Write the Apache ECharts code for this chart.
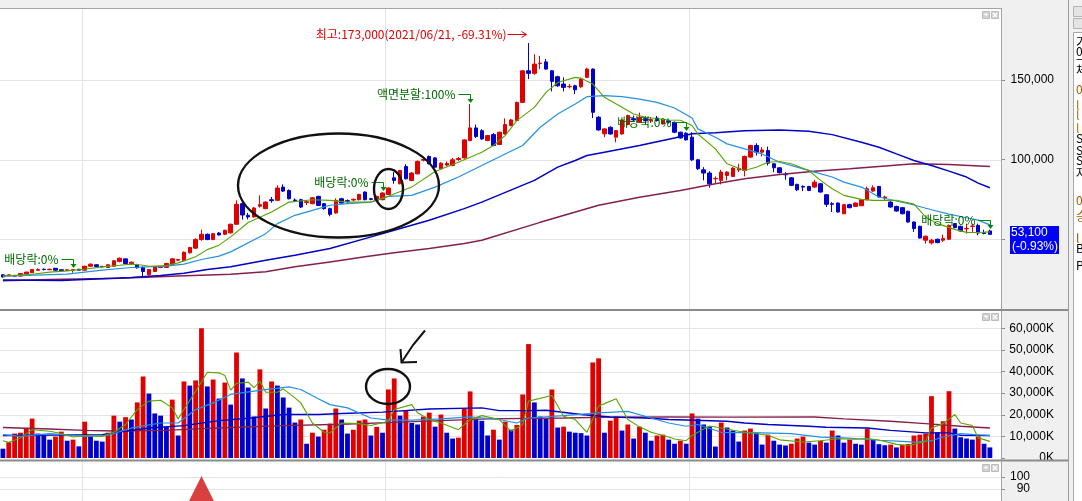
<!DOCTYPE html>
<html><head><meta charset="utf-8">
<script src="https://cdn.jsdelivr.net/npm/echarts@6/dist/echarts.min.js"></script>
<style>html,body{margin:0;padding:0;background:#fff;overflow:hidden}#c{width:1082px;height:501px}</style>
</head><body><div id="c"></div>
<script>
// ---- weekly data (price in thousand won, volume in million shares) ----
const firstWeek = '2019-09-30';
const open = [27.7,27.1,27.3,26.9,28.2,29.0,30.5,31.2,30.9,31.8, 30.9,30.6,30.4,31.2,30.6,33.1,34.0,33.0,32.3,33.1, 36.0,37.7,34.4,34.0,32.3,27.7,29.8,32.3,32.3,34.4, 36.9,36.5,41.5,44.4,49.8,53.1,49.8,53.9,53.1,54.0, 59.4,72.3,65.0,64.0,70.7,69.2,74.8,74.4,82.7,80.6, 74.6,74.8,73.1,72.3,76.9,72.3,69.2,66.5,75.4,74.2, 74.6,74.8,79.6,75.4,74.4,74.8,78.1,88.5,84.8,95.6, 86.9,91.0,99.6,101.9,101.0,94.2,96.5,96.2,100.0,101.0, 111.9,119.8,118.1,111.9,115.6,109.4,116.0,121.3,124.4,135.8, 155.6,154.0,160.2,161.2,155.6,151.9,147.3,145.6,146.2,145.6, 151.5,156.7,126.5,116.1,120.2,114.0,116.0,121.9,125.6,123.3, 125.6,124.4,126.0,122.3,124.2,123.3,117.1,116.5,114.0,99.8, 93.5,91.5,87.9,86.9,90.0,89.4,93.5,93.1,101.5,108.8, 104.6,105.6,97.3,94.8,90.6,88.5,84.4,83.1,83.1,82.7, 84.8,77.9,72.3,72.7,66.0,71.7,70.6,71.0,74.8,80.2, 83.1,76.0,73.3,70.6,69.8,67.5,60.8,58.1,49.4,47.7, 50.0,49.4,50.0,59.8,58.1,56.5,58.1,58.7,54.0,55.2];
const close = [26.4,27.7,26.9,28.5,29.4,31.0,31.0,31.0,31.2,30.6, 30.2,30.8,31.0,30.6,33.1,34.4,32.9,32.7,34.0,36.5, 38.1,34.8,35.6,32.1,29.8,31.0,32.7,32.9,34.8,37.7, 37.3,41.9,44.8,49.8,53.1,49.8,53.5,52.7,55.6,59.4, 71.9,65.2,64.0,69.6,71.7,73.3,74.2,82.1,80.2,75.4, 74.2,70.2,73.5,76.0,71.2,69.2,65.6,74.4,72.7,73.8, 75.0,78.1,74.8,75.0,76.9,79.0,82.1,86.9,93.1,87.9, 91.5,98.8,100.0,97.3,95.2,97.7,97.5,99.8,100.6,112.3, 119.8,114.4,112.9,115.0,108.8,117.1,121.9,124.8,135.8,155.6, 154.0,159.8,160.4,156.7,149.0,146.2,145.2,145.9,143.7,150.4, 156.7,129.6,118.5,119.2,116.0,118.1,124.8,127.5,124.8,126.5, 124.4,125.0,124.4,124.6,123.5,117.1,113.5,112.3,99.8,94.2, 91.5,84.8,88.1,92.1,92.1,94.6,94.4,101.9,108.8,104.6, 106.0,97.7,94.8,91.7,90.4,83.8,81.0,82.7,80.6,85.8, 79.6,71.9,71.9,67.1,71.7,69.8,72.7,74.8,81.7,82.3, 76.5,76.5,70.2,67.7,66.0,60.8,56.7,50.8,51.9,49.4, 47.9,50.4,58.7,57.3,55.2,56.7,58.3,53.9,53.6,53.1];
const low = [26.0,26.8,26.5,26.6,28.0,28.8,30.2,30.5,30.6,30.4, 30.0,30.3,29.0,30.4,30.4,32.8,32.6,32.3,32.0,32.9, 35.6,34.4,34.0,31.6,26.0,27.2,29.4,31.9,32.0,34.0, 36.5,36.3,41.0,44.0,49.0,49.4,49.4,52.3,52.7,53.5, 59.0,62.3,62.5,63.5,69.8,68.8,72.9,74.0,79.6,75.0, 73.3,69.6,71.5,71.9,70.8,68.5,64.4,66.0,72.3,72.9, 73.8,74.4,74.4,74.4,74.0,74.4,77.7,84.8,84.4,87.5, 86.5,90.6,98.8,96.9,94.8,93.8,95.8,95.8,99.2,100.6, 111.5,113.5,112.3,111.5,108.3,109.0,115.6,120.8,124.0,135.4, 150.4,153.1,156.7,156.3,142.7,145.6,142.7,144.6,141.0,145.0, 151.0,126.0,118.1,114.0,115.6,110.8,115.6,121.5,123.5,122.9, 122.3,122.9,123.8,121.9,122.5,116.5,113.1,111.9,99.0,93.5, 86.9,82.3,84.8,84.4,86.9,89.0,92.1,89.4,101.0,102.5, 101.9,96.2,92.1,91.3,87.3,83.3,80.2,80.2,80.2,82.3, 79.2,70.2,67.1,66.7,65.6,69.4,70.2,71.0,74.4,79.8, 76.0,74.4,69.8,67.3,65.6,60.4,54.6,50.4,47.3,46.7, 47.5,48.3,49.6,56.9,54.8,53.5,54.6,52.5,53.1,52.9];
const high = [28.0,27.9,27.6,28.7,29.6,31.3,31.8,31.7,31.6,32.0, 31.2,31.1,31.3,31.4,33.4,34.8,34.4,33.3,34.3,36.9, 38.5,37.9,36.1,34.6,33.0,31.3,33.0,33.3,35.2,38.3, 37.7,42.3,45.2,50.6,56.0,53.6,53.9,54.5,56.0,59.8, 74.4,74.0,66.5,70.2,77.5,73.8,76.5,83.8,84.4,81.2, 75.6,75.4,74.4,76.5,77.3,72.7,69.8,75.6,76.0,75.0, 75.6,78.5,80.0,76.0,77.3,79.4,82.5,92.1,93.5,97.0, 92.1,99.4,100.8,102.5,101.5,98.3,98.8,101.0,101.5,112.7, 134.8,121.9,119.0,115.4,116.5,117.5,125.8,125.4,136.3,156.0, 173.0,166.0,165.0,163.0,156.0,152.5,151.5,147.3,146.9,151.0, 157.5,157.1,127.3,119.6,120.8,118.5,125.2,128.1,127.5,129.4, 127.1,126.5,127.3,125.0,125.0,123.8,117.5,117.1,117.1,100.4, 95.2,92.7,89.4,93.5,92.7,95.2,97.3,102.5,109.2,110.2, 107.7,108.1,97.7,95.2,92.1,89.0,84.8,83.8,83.5,87.3, 85.2,78.3,73.3,73.1,72.1,72.3,73.1,75.2,83.1,83.8, 83.5,77.3,73.8,71.0,70.2,67.9,61.2,58.5,52.3,50.2, 50.4,52.9,59.2,60.2,58.5,59.8,59.8,59.8,56.0,56.0];
const volume = [4.3,7.3,11.3,11.7,13.9,18.2,11.3,10.7,8.5,9.9, 12.2,8.0,8.5,5.4,16.8,10.0,8.0,7.6,11.7,19.6, 16.8,18.9,17.8,25.7,37.7,29.8,20.6,19.6,14.5,27.0, 10.4,35.4,33.5,35.9,60.0,33.1,36.3,27.5,34.9,24.7, 48.8,36.8,32.6,19.2,41.0,22.9,35.4,33.5,28.0,23.3, 16.4,17.8,6.6,11.7,9.9,13.1,15.9,22.9,17.8,11.3, 13.1,17.3,17.8,10.4,14.4,11.7,31.7,36.8,19.6,21.8, 16.2,15.5,19.2,21.0,14.5,20.1,11.7,9.0,9.4,22.7, 30.8,18.2,17.2,10.4,13.1,8.5,16.8,13.1,15.3,29.4, 52.7,25.7,19.2,18.2,31.7,14.1,14.5,12.2,11.7,11.5, 10.4,44.2,46.1,11.7,17.3,19.2,12.7,15.5,9.0,14.5, 11.7,8.0,10.4,10.8,8.5,6.6,8.0,6.6,20.6,18.2, 15.5,14.5,5.3,16.4,14.1,12.7,7.6,12.7,13.6,11.7, 6.2,10.8,8.0,6.2,5.8,6.6,9.0,9.9,7.1,6.2, 8.0,7.1,12.7,10.4,7.1,8.5,6.6,6.2,13.6,8.5, 6.4,5.9,6.2,4.9,6.2,6.5,10.4,10.8,11.3,28.6, 11.9,17.0,30.9,13.6,9.6,9.0,8.5,10.0,6.6,4.9];

// moving-average lines: [week index, value]
const priceMA10 = [[0,26.9],[5,28.1],[8,29.4],[11,30.2],[14,31.2],[17,32.7],[20,33.7],[22,34.4],[24,33.7],[25,33.1],[28,33.5],[30,35.2],[33,39.0],[35,43.5],[37,46.3],[39,51.5],[42,60.5],[46,67.1],[49,73.3],[53,74.8],[56,74.4],[59,73.3],[63,73.3],[66,76.9],[70,82.7],[74,92.5],[78,98.3],[82,104.6],[84,108.8],[86,115.0],[88,124.4],[91,132.7],[93,142.1],[95,148.3],[98,151.5],[99,151.0],[101,147.3],[103,139.0],[106,132.7],[108,128.5],[110,126.5],[114,124.8],[116,124.6],[118,121.3],[119,116.0],[122,106.7],[124,97.3],[127,93.1],[129,95.2],[131,98.3],[133,98.7],[135,97.3],[138,93.1],[140,86.9],[142,81.7],[144,77.5],[147,75.0],[149,74.4],[151,74.4],[153,74.4],[156,72.0],[158,64.0],[160,59.8],[163,56.2],[165,54.3],[167,54.2],[169,54.6]];
const priceMA20 = [[0,26.9],[11,28.1],[17,30.6],[22,32.3],[28,33.1],[31,34.4],[34,37.3],[37,39.4],[39,42.1],[45,53.5],[47,59.8],[50,65.0],[53,68.1],[56,71.3],[59,72.3],[63,73.3],[66,76.9],[70,77.5],[74,82.7],[78,89.0],[82,96.2],[86,103.5],[89,108.8],[92,120.2],[95,128.5],[98,134.8],[100,139.4],[103,140.0],[106,139.4],[109,137.9],[112,135.8],[115,132.3],[118,126.0],[119,119.2],[122,114.0],[124,109.8],[127,106.7],[130,103.5],[133,98.3],[136,95.2],[139,92.1],[142,89.0],[144,85.8],[147,82.7],[150,76.5],[153,74.0],[156,71.5],[159,68.5],[162,65.8],[165,63.5],[167,62.0],[169,59.0]];
const priceMA60 = [[0,24.5],[10,24.2],[17,25.2],[22,26.0],[27,27.3],[31,28.7],[35,31.0],[39,32.7],[45,36.9],[50,40.0],[56,44.2],[62,50.4],[67,55.6],[73,61.9],[79,69.2],[82,73.3],[91,86.9],[95,95.2],[98,99.4],[100,102.5],[103,104.6],[109,108.8],[115,113.5],[118,116.2],[122,116.7],[127,118.1],[133,118.5],[138,117.7],[142,115.6],[147,110.8],[150,107.7],[153,103.5],[156,99.4],[159,96.2],[162,92.7],[165,89.0],[167,85.2],[169,82.3]];
const priceMA120 = [[0,24.0],[8,24.8],[20,25.6],[30,26.9],[39,28.1],[45,29.6],[50,32.7],[56,35.8],[62,39.0],[67,41.5],[73,44.2],[79,47.3],[82,49.4],[92,60.6],[102,71.3],[109,76.3],[116,80.6],[122,84.8],[127,87.9],[133,90.6],[139,92.7],[145,94.2],[150,95.6],[156,97.3],[162,96.9],[169,95.6]];
const volMA5 = [[0,8.0],[1,7.3],[3,9.3],[5,13.1],[8,12.4],[10,11.3],[12,9.7],[14,10.4],[17,10.0],[19,11.9],[21,15.5],[23,22.4],[25,26.3],[27,26.7],[29,23.2],[30,18.1],[31,22.4],[33,30.9],[35,39.7],[37,39.4],[38,38.2],[39,31.4],[40,34.5],[42,35.1],[43,32.5],[44,35.5],[45,30.4],[47,30.4],[48,32.0],[50,27.8],[51,25.5],[53,16.2],[55,11.9],[56,11.6],[58,16.2],[61,15.9],[63,15.0],[66,17.0],[67,22.4],[70,24.7],[71,20.9],[73,17.8],[75,16.2],[78,13.1],[80,17.8],[82,19.6],[85,17.8],[87,12.4],[89,15.5],[90,26.3],[94,28.9],[96,19.3],[98,17.8],[100,11.9],[102,24.0],[105,27.4],[107,17.8],[109,14.4],[111,11.9],[114,9.7],[115,8.8],[117,8.0],[118,10.4],[120,13.4],[121,14.8],[123,13.9],[126,12.4],[128,11.6],[131,10.5],[133,8.4],[137,7.4],[140,8.0],[143,8.9],[146,8.7],[148,9.0],[150,8.3],[153,6.3],[155,5.8],[158,7.7],[159,13.9],[161,15.9],[163,20.1],[164,16.2],[166,15.0],[167,9.3],[169,7.7]];
const volMA20 = [[0,10.8],[3,10.0],[8,11.3],[14,10.0],[18,10.4],[22,13.9],[27,16.2],[30,16.2],[33,22.4],[36,25.5],[39,29.4],[43,30.9],[46,32.0],[49,32.9],[51,31.7],[54,27.4],[56,24.7],[59,23.2],[63,18.5],[66,17.5],[70,17.5],[75,18.1],[80,19.0],[85,17.8],[88,16.2],[90,18.5],[96,19.6],[102,20.9],[107,21.6],[111,18.5],[114,16.2],[117,14.7],[119,15.5],[123,11.9],[130,11.6],[135,11.3],[140,9.7],[144,9.3],[150,8.2],[154,7.7],[156,7.3],[159,8.0],[161,9.7],[164,11.3],[167,10.7],[169,10.4]];
const volMA60 = [[0,10.4],[17,10.8],[19,11.6],[25,13.9],[31,15.0],[37,17.3],[42,18.4],[48,20.1],[54,20.1],[58,20.6],[65,21.2],[73,22.7],[82,23.2],[85,21.9],[90,21.9],[93,22.1],[99,20.1],[104,19.0],[110,18.5],[114,17.8],[124,17.0],[127,16.2],[131,15.5],[138,14.7],[141,14.2],[148,13.9],[152,12.8],[158,11.6],[162,11.6],[164,10.5],[169,10.4]];
const volMA120 = [[0,14.1],[8,13.4],[14,12.8],[19,12.5],[28,12.8],[34,13.6],[39,14.1],[48,15.0],[58,15.6],[67,16.5],[83,18.1],[96,18.5],[104,18.9],[114,19.0],[124,18.9],[139,19.0],[144,18.1],[152,17.0],[158,15.9],[164,14.7],[169,13.9]];

// events
const exDividendWeeks = ['2019-12-23','2020-12-28','2021-12-27','2022-12-26'];
const exDividendLabel = '배당락:0%';
const splitWeek = '2021-04-12';
const splitLabel = '액면분할:100%';
const signalWeek = '2020-05-25';
const signalValue = 90;
// axis labels
const priceLabels = [100, 150];
const priceTicks = [50, 100, 150];
const volumeLabels = [0, 10, 20, 30, 40, 50, 60];
const lowerLabels = [90, 100];

// ---- categories: week start dates ----
const categories = [];
(function(){const t0 = Date.parse(firstWeek + 'T00:00:00Z');
 for (let i = 0; i < open.length; i++) categories.push(new Date(t0 + i*7*86400000).toISOString().slice(0,10));})();

const RED = '#e00000', BLUE = '#0000cc';
const C_G = '#5aa400', C_LB = '#2490e4', C_DB = '#0000c8', C_MR = '#84204e';
const N = open.length, BAND = 5.84, GW = N*BAND, PR = 1001;
const fmt = n => Math.round(n).toLocaleString('en-US');
const NUMFONT = 'Liberation Sans';
const KFONT = '"Noto Sans CJK KR", sans-serif';

const chart = echarts.init(document.getElementById('c'), null, {renderer:'canvas', width:1082, height:501});

const maLine = (data, color, xi, w) => ({type:'line', xAxisIndex:xi, yAxisIndex:xi, data, symbol:'none', silent:true, z:3,
  lineStyle:{color, width:w}, itemStyle:{color}});

const option = {
  animation:false,
  backgroundColor:'#ffffff',
  grid:[
    {left:0, top:-1, width:GW, height:320},
    {left:0, top:328.3, width:GW, height:129.7},
    {left:0, top:453.3, width:GW, height:52}
  ],
  xAxis:[0,1,2].map(g => ({type:'category', gridIndex:g, data:categories, boundaryGap:true, show:false})),
  yAxis:[
    {gridIndex:0, type:'value', min:0, max:200, interval:50, position:'right', offset:PR-GW,
     axisLine:{show:false}, splitLine:{show:false},
     axisTick:{show:true, customValues:priceTicks, length:4, lineStyle:{color:'#8c8c8c'}},
     axisLabel:{customValues:priceLabels, formatter:v => priceLabels.includes(v) ? fmt(v*1000) : '',
       align:'right', margin:53, color:'#000', fontSize:12, fontFamily:NUMFONT}},
    {gridIndex:1, type:'value', min:0, max:60, interval:10, position:'right', offset:PR-GW,
     axisLine:{show:false}, splitLine:{show:false},
     axisTick:{show:true, length:4, lineStyle:{color:'#8c8c8c'}},
     axisLabel:{formatter:v => volumeLabels.includes(v) ? fmt(v*1000)+'K' : '',
       align:'right', margin:53, color:'#000', fontSize:12, fontFamily:NUMFONT}},
    {gridIndex:2, type:'value', min:80, max:120, interval:10, position:'right', offset:PR-GW,
     axisLine:{show:false}, splitLine:{show:false},
     axisTick:{show:true, customValues:lowerLabels, length:4, lineStyle:{color:'#8c8c8c'}},
     axisLabel:{customValues:lowerLabels, formatter:v => lowerLabels.includes(v) ? String(v) : '',
       align:'right', margin:29, color:'#000', fontSize:12, fontFamily:NUMFONT}}
  ],
  series:[
    {type:'candlestick', xAxisIndex:0, yAxisIndex:0, barWidth:4, silent:true, z:2,
     data: open.map((o,i) => [o, close[i], low[i], high[i]]),
     itemStyle:{color:RED, color0:BLUE, borderColor:RED, borderColor0:BLUE, borderWidth:1}},
    maLine(priceMA120, C_MR, 0, 1.5),
    maLine(priceMA60, C_DB, 0, 1.5),
    maLine(priceMA20, C_LB, 0, 1.2),
    maLine(priceMA10, C_G, 0, 1.1),
    {type:'bar', xAxisIndex:1, yAxisIndex:1, barWidth:4.8, silent:true, z:2,
     data: volume.map((v,i) => ({value:v, itemStyle:{color:(i>0 && v>=volume[i-1]) ? RED : BLUE}}))},
    maLine(volMA120, C_MR, 1, 1.4),
    maLine(volMA60, C_DB, 1, 1.4),
    maLine(volMA20, C_LB, 1, 1.2),
    maLine(volMA5, C_G, 1, 1.1),
    {type:'scatter', xAxisIndex:2, yAxisIndex:2, symbol:'triangle', symbolSize:[26,26], silent:true, z:4,
     itemStyle:{color:'#d01010'}, data:[[categories.indexOf(signalWeek), signalValue]]}
  ]
};
chart.setOption(option);

// ---- decorations placed from axis scales ----
const Y = (a, v) => chart.convertToPixel({yAxisIndex:a}, v);
const X = i => chart.convertToPixel({xAxisIndex:0}, i);
const els = [];
const ln = (x1,y1,x2,y2,stroke,w,z) => els.push({type:'line', silent:true, z:z||1, shape:{x1,y1,x2,y2}, style:{stroke, lineWidth:w||1}});
const rc = (x,y,w,h,fill,stroke,z) => els.push({type:'rect', silent:true, z:z===undefined?0:z, shape:{x,y,width:w,height:h}, style:{fill, stroke:stroke||null, lineWidth:1}});
const tx = (t,x,y,fill,font,align,z) => els.push({type:'text', silent:true, z:z||10,
  style:{text:t, x, y, fill, font, align:align||'left', verticalAlign:'middle', textAlign:align||'left', textVerticalAlign:'middle'}});

// backgrounds
rc(0,0,1068,8,'#f0f0f0',null,0);
rc(1002,0,66,501,'#f0f0f0',null,0);
rc(1069,0,13,501,'#f0f0f0',null,0);
ln(1068.5,0,1068.5,501,'#9a9a9a',1,1);
rc(1073.5,6.5,10,10,'#e4e4e4','#b4b4b4',1);
rc(1073.5,18.5,10,10,'#e4e4e4','#b4b4b4',1);
rc(1073.5,32.5,10,470,'#ffffff','#a8a8a8',1);
[['가',42,'#000'],['0',51,'#000'],['ㅡ',60,'#000'],['체',70,'#000'],['0',89,'#a05a00'],['l',105,'#c07000'],['l',115,'#c07000'],['l',128,'#c07000'],
 ['S',138,'#000'],['S',150,'#000'],['S',160,'#000'],['자',173,'#000'],['0',200,'#a05a00'],['승',216,'#a05a00'],['l',238,'#a05a00'],['B',248,'#000'],['P',265,'#000']]
 .forEach(([t,y,c]) => tx(t,1076,y,c,'12px '+KFONT,'left',2));

// gridlines
const GC = '#e4e4e4';
priceTicks.forEach(v => { const y = Math.round(Y(0,v))+0.5; ln(0,y,PR,y,GC,1,1); });
volumeLabels.filter(v=>v>0).forEach(v => { const y = Math.round(Y(1,v))+0.5; ln(0,y,PR,y,GC,1,1); });
lowerLabels.forEach(v => { const y = Math.round(Y(2,v))+0.5; ln(0,y,PR,y,GC,1,1); });
for (let i = 1; i < N; i++) {
  if (categories[i].slice(0,4) !== categories[i-1].slice(0,4)) {
    const x = Math.round(X(i) - BAND/2) + 0.5; ln(x,8,x,501,GC,1,1);
  }
}
// frames
ln(0,8.5,PR,8.5,'#a4a4a4',1,5);
ln(PR+0.5,8,PR+0.5,501,'#a4a4a4',1,5);
rc(0,309,1068,2,'#8c8c8c',null,5);
rc(0,459.5,1068,2,'#8c8c8c',null,5);
[11.5,313.5,464.5].forEach(y => {
  rc(982.5,y,7,7,'#d2d2d2','#bcbcbc',6); rc(984.5,y+2,3,2,'#ffffff',null,7);
  rc(991.5,y,7,7,'#d2d2d2','#bcbcbc',6); ln(993,y+1.5,997,y+5.5,'#fff',1.2,7); ln(997,y+1.5,993,y+5.5,'#fff',1.2,7);
});

// event markers (bracket arrows above the week's high)
const GREENTXT = '#006a00', GREENLN = '#008800';
function bracket(week, label) {
  const i = categories.indexOf(week); if (i < 0) return;
  const cx = Math.round(X(i)) + 0.5, hy = Y(0, high[i]);
  const tip = Math.round(hy) - 1, by = Math.round(tip - 9) + 0.5;
  ln(cx-12, by, cx, by, GREENLN, 1, 12);
  ln(cx, by, cx, tip-3, GREENLN, 1, 12);
  els.push({type:'polygon', silent:true, z:12, shape:{points:[[cx-3,tip-4],[cx+3,tip-4],[cx,tip]]}, style:{fill:GREENLN}});
  tx(label, cx-15, by, GREENTXT, '12px '+KFONT, 'right', 12);
}
exDividendWeeks.forEach(w => bracket(w, exDividendLabel));
bracket(splitWeek, splitLabel);

// all-time high label
(function(){
  let im = 0; high.forEach((h,i) => { if (h > high[im]) im = i; });
  const cx = X(im), hy = Y(0, high[im]), ty = Math.round(hy - 9) + 0.5;
  const last = close[N-1];
  const pct = ((last/high[im] - 1)*100).toFixed(2);
  const label = '최고:' + fmt(high[im]*1000) + '(' + categories[im].replace(/-/g,'/') + ', ' + pct + '%)';
  tx(label, cx-22, ty, RED, '12px '+KFONT, 'right', 12);
  ln(cx-21, ty, cx-2, ty, RED, 1, 12);
  els.push({type:'polyline', silent:true, z:12, shape:{points:[[cx-7,ty-3],[cx-2,ty],[cx-7,ty+3]]}, style:{stroke:RED, lineWidth:1, fill:null}});
})();

// last price box
(function(){
  const last = close[N-1], prev = close[N-2];
  const yc = Math.round(Y(0, last));
  rc(1010, yc-8, 49, 28, '#0000ff', null, 12);
  tx(fmt(last*1000), 1011, yc-1.5, '#ffffff', '12px '+NUMFONT, 'left', 13);
  tx('(' + ((last/prev - 1)*100).toFixed(2) + '%)', 1012, yc+12.5, '#ffffff', '12px '+NUMFONT, 'left', 13);
})();

// hand-drawn marks on the screenshot
const HAND = {stroke:'#111111', lineWidth:2.4, fill:'none'};
els.push({type:'ellipse', silent:true, z:20, shape:{cx:338.5, cy:185.5, rx:100.5, ry:52}, style:HAND});
els.push({type:'ellipse', silent:true, z:20, shape:{cx:388.5, cy:189, rx:14.5, ry:20}, style:HAND});
els.push({type:'ellipse', silent:true, z:20, shape:{cx:388, cy:386.5, rx:22, ry:17.5}, style:HAND});
els.push({type:'polyline', silent:true, z:20, shape:{points:[[425,330.5],[413,345],[401.5,362.5]]}, style:{stroke:'#111', lineWidth:2, fill:null}});
els.push({type:'polyline', silent:true, z:20, shape:{points:[[400.5,349],[401.5,362.5],[417,362]]}, style:{stroke:'#111', lineWidth:2, fill:null}});

chart.setOption({graphic:{elements:els}});
</script>
</body></html>
